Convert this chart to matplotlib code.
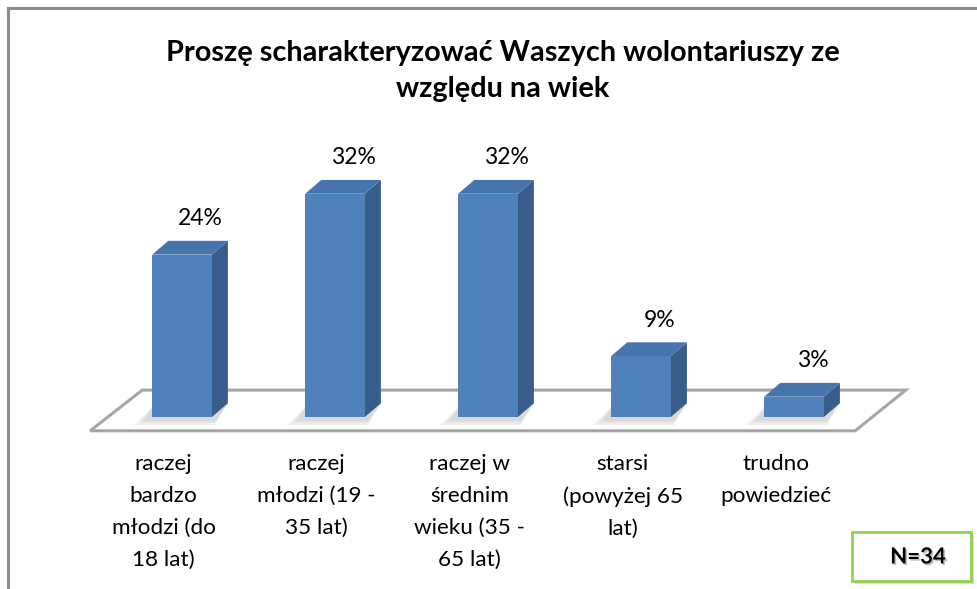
import numpy as np
import matplotlib
matplotlib.use("Agg")
import matplotlib.pyplot as plt
from matplotlib.patches import Polygon, Rectangle
from matplotlib.lines import Line2D
import matplotlib.patheffects as pe

plt.rcParams['font.family'] = ['Lato', 'DejaVu Sans']

# Data
title = "Proszę scharakteryzować Waszych wolontariuszy ze\nwzględu na wiek"
categories = [
    "raczej\nbardzo\nmłodzi (do\n18 lat)",
    "raczej\nmłodzi (19 -\n35 lat)",
    "raczej w\nśrednim\nwieku (35 -\n65 lat)",
    "starsi\n(powyżej 65\nlat)",
    "trudno\npowiedzieć",
]
counts = [8, 11, 11, 3, 1]
n_total = 34
values = [100.0 * c / n_total for c in counts]
value_labels = ["24%", "32%", "32%", "9%", "3%"]

# Style
front_col = "#4F81BD"
side_col = "#385D8A"
top_col = "#4674AD"
floor_col = "#A6A6A6"
bar_w = 0.39
dx, dy = 0.105, 2.0   # depth offset of the 3d look

fig = plt.figure(figsize=(9.78, 5.89), dpi=100)
ax = fig.add_axes([0, 0, 1, 1])
ax.set_xlim(-182 / 153, (978 - 182) / 153)
ax.set_ylim((417 - 589) / 6.9, 417 / 6.9)
ax.axis("off")

x = np.arange(len(values))

# floor
floor = Polygon([(-0.60, -2.0), (4.40, -2.0), (4.73, 3.9), (-0.26, 3.9)],
                closed=True, facecolor="white", edgecolor=floor_col, lw=2.2, zorder=1)
ax.add_patch(floor)

# soft shadows under the bars
for xi in x:
    for k in range(3):
        sh = Polygon([(xi - bar_w / 2 - 0.12 + k * 0.03, -1.2 + k * 0.3),
                      (xi + bar_w / 2 + 0.02, -1.2 + k * 0.3),
                      (xi + bar_w / 2 + dx, dy),
                      (xi - bar_w / 2 + dx - 0.08, dy)],
                     closed=True, facecolor="black", edgecolor="none", alpha=0.05, zorder=2)
        ax.add_patch(sh)

# bars: front faces
ax.bar(x, values, width=bar_w, color=front_col, edgecolor="none", zorder=4)

for xi, v in zip(x, values):
    r = xi + bar_w / 2
    l = xi - bar_w / 2
    side = Polygon([(r, 0), (r + dx, dy), (r + dx, v + dy), (r, v)],
                   closed=True, facecolor=side_col, edgecolor="none", zorder=3)
    top = Polygon([(l, v), (r, v), (r + dx, v + dy), (l + dx, v + dy)],
                  closed=True, facecolor=top_col, edgecolor="none", zorder=3)
    ax.add_patch(side)
    ax.add_patch(top)

# value labels
for xi, v, lab in zip(x, values, value_labels):
    ax.text(xi + 0.12, v + dy + 3.2, lab, ha="center", va="center",
            fontsize=16.5, color="black", zorder=6)

# category labels
for xi, lab in zip(x, categories):
    ax.text(xi - 0.12, (417 - 454) / 6.9, lab, ha="center", va="top",
            fontsize=16.2, linespacing=1.74, color="black", zorder=6)

# title
fig.text(503 / 978, 1 - 71 / 589, title, ha="center", va="center",
         fontsize=20.8, fontweight="bold", linespacing=1.45)

# outer frame (left and top)
fig.add_artist(Line2D([8 / 978, 8 / 978], [0, 1 - 8 / 589], color="#8C8C8C", lw=2.2))
fig.add_artist(Line2D([8 / 978, 1], [1 - 8 / 589, 1 - 8 / 589], color="#8C8C8C", lw=2.2))

# N box
box = Rectangle((852 / 978, 1 - 581 / 589), 119 / 978, 49 / 589, transform=fig.transFigure,
                facecolor="white", edgecolor="#92D050", lw=2,
                path_effects=[pe.SimplePatchShadow(offset=(2, -2), alpha=0.2), pe.Normal()])
fig.add_artist(box)
fig.text(918 / 978, 1 - 557 / 589, "N=" + str(n_total), ha="center", va="center",
         fontsize=16, fontweight="bold",
         path_effects=[pe.withSimplePatchShadow(offset=(1.2, -1.2), alpha=0.25)])

fig.savefig("out.png", dpi=100)
